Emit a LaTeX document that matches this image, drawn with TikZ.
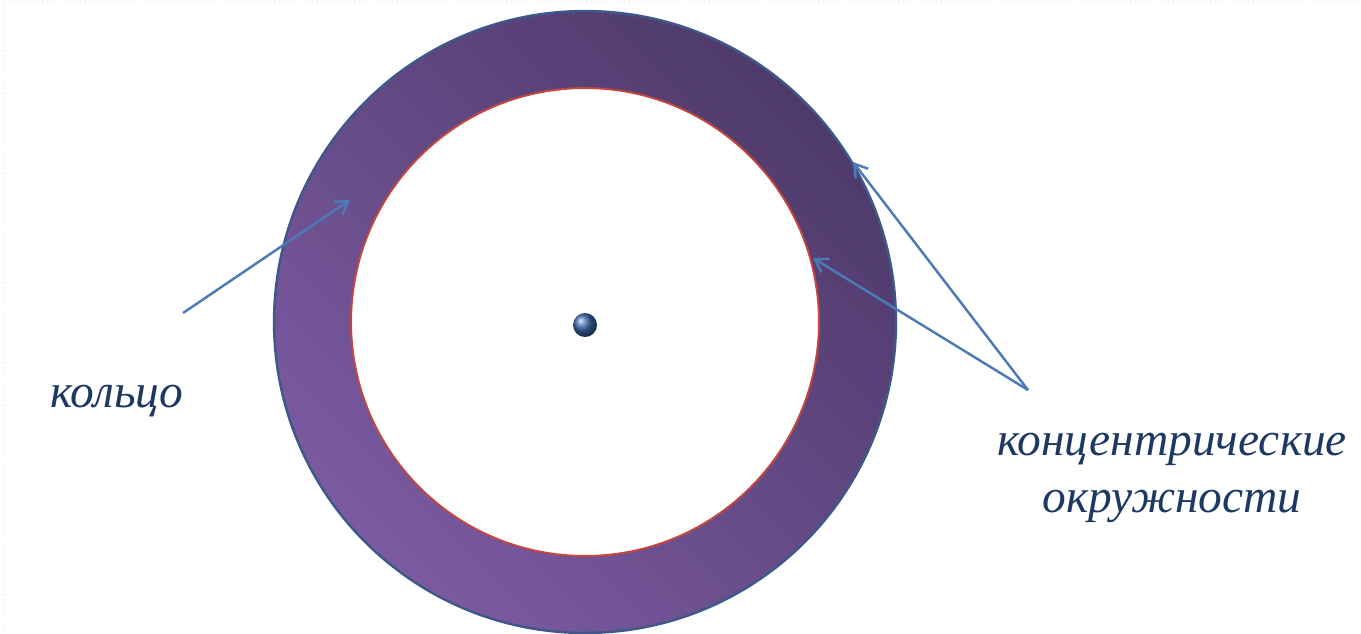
\documentclass[tikz,border=0pt]{standalone}
\usepackage{fontspec}
\setmainfont{Liberation Serif}
\usetikzlibrary{arrows.meta}
\definecolor{ringlight}{RGB}{124,90,162}
\definecolor{ringdark}{RGB}{78,58,106}
\definecolor{ringedge}{RGB}{62,88,138}
\definecolor{inneredge}{RGB}{196,70,62}
\definecolor{arrowblue}{RGB}{76,122,182}
\definecolor{textnavy}{RGB}{30,56,100}
\definecolor{dotblue}{RGB}{58,104,172}

\begin{document}
\begin{tikzpicture}[x=0.02cm, y=-0.02cm, every node/.style={font=\fontsize{27}{32}\selectfont\itshape, text=textnavy}, arrow/.style={-{Straight Barb[length=7pt, width=9pt]}, arrowblue, line width=1.4pt}]
\useasboundingbox (0,0) rectangle (1361,633);
\draw[gray!25, dotted] (4,633) -- (4,1) -- (1361,1);
\coordinate (centre) at (585,322);
% ring between the two concentric circles
\shade[even odd rule, top color=ringdark, bottom color=ringlight, shading angle=-45] (centre) circle (6.22cm) (centre) circle (4.68cm);
\draw[ringedge, line width=1.4pt] (centre) circle (6.22cm);
\draw[inneredge, line width=1.1pt] (centre) circle (4.68cm);
\shade[ball color=dotblue] (585,325) circle (0.24cm);
% labels
\node[anchor=base] (ring) at (117,407) {кольцо};
\node[align=center] (circles) at (1172,478) {концентрические\\окружности};
\coordinate (ringfrom) at (183,313);
\coordinate (ringto) at (350,200);
\coordinate (circfrom) at (1028,390);
\coordinate (outerto) at (853,162);
\coordinate (innerto) at (813,258);
\draw[arrow] (ringfrom) -- (ringto);
\draw[arrow] (circfrom) -- (outerto);
\draw[arrow] (circfrom) -- (innerto);
\end{tikzpicture}
\end{document}
